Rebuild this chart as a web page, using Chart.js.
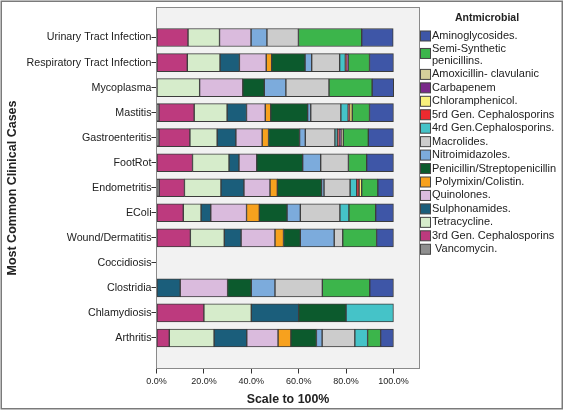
<!DOCTYPE html>
<html>
<head>
<meta charset="utf-8">
<script src="https://cdn.jsdelivr.net/npm/chart.js@4.4.1/dist/chart.umd.min.js"></script>
<style>
  html, body { margin: 0; padding: 0; background: #fff; }
  #wrap { width: 564px; height: 411px; position: relative; }
</style>
</head>
<body>
<div id="wrap"><canvas id="chart"></canvas></div>
<script>
// categories, top to bottom
const cases = ['Urinary Tract Infection', 'Respiratory Tract Infection', 'Mycoplasma', 'Mastitis',
    'Gastroenteritis', 'FootRot', 'Endometritis', 'EColi', 'Wound/Dermatitis', 'Coccidiosis',
    'Clostridia', 'Chlamydiosis', 'Arthritis'];

// percent of each case, stacked left to right in this order
const vancomycin     = [0, 0, 0, 1.0, 1.0, 0, 1.1, 0, 0, 0, 0, 0, 0];
const thirdGenCeph   = [13.3, 13.0, 0, 14.9, 13.1, 15.2, 10.7, 11.3, 14.3, 0, 0, 20, 5.4];
const tetracycline   = [13.3, 13.8, 18.2, 13.9, 11.5, 15.4, 15.4, 7.5, 14.3, 0, 0, 20, 18.9];
const sulphonamides  = [0, 8.2, 0, 8.2, 7.9, 4.2, 9.7, 4.1, 7.1, 0, 10, 20, 13.8];
const quinolones     = [13.3, 11.3, 18.2, 7.9, 11.1, 7.5, 11.0, 15.1, 14.3, 0, 20, 0, 13.2];
const polymixin      = [0, 2.3, 0, 2.3, 2.7, 0, 3.1, 5.4, 3.6, 0, 0, 0, 5.4];
const penicillin     = [0, 14.1, 9.1, 15.6, 13.1, 19.4, 18.7, 11.7, 7.1, 0, 10, 20, 10.8];
const nitroimidazole = [6.7, 2.8, 9.1, 1.3, 2.4, 7.6, 1.0, 5.6, 14.3, 0, 10, 0, 2.4];
const macrolides     = [13.3, 11.8, 18.2, 12.7, 12.5, 11.7, 11.0, 16.7, 3.6, 0, 20, 0, 13.8];
const fourthGenCeph  = [0, 2.4, 0, 3.1, 1.0, 0, 2.8, 3.8, 0, 0, 0, 20, 5.4];
const fifthGenCeph   = [0, 0.6, 0, 0.6, 0.8, 0, 1.0, 0, 0, 0, 0, 0, 0];
const chloramphenicol = [0, 0, 0, 1.1, 0, 0, 1.1, 0, 0, 0, 0, 0, 0];
const carbapenem     = [0, 0.7, 0, 0, 0.8, 0, 0, 0, 0, 0, 0, 0, 0];
const amoxClav       = [0, 0, 0, 0, 0.9, 0, 0, 0, 0, 0, 0, 0, 0];
const semiSynthetic  = [26.7, 8.9, 18.2, 7.3, 10.6, 7.7, 6.8, 11.3, 14.3, 0, 20, 0, 5.5];
const aminoglycosides = [13.3, 10.1, 9.1, 10.1, 10.6, 11.3, 6.6, 7.5, 7.1, 0, 10, 0, 5.4];

const xTicks = [0, 20, 40, 60, 80, 100];

const series = [
    { name: ' Vancomycin.', data: vancomycin, color: '#8f8f8f' },
    { name: '3rd Gen. Cephalosporins', data: thirdGenCeph, color: '#bd3a7e' },
    { name: 'Tetracycline.', data: tetracycline, color: '#d6eccb' },
    { name: 'Sulphonamides.', data: sulphonamides, color: '#1b5e7b' },
    { name: 'Quinolones.', data: quinolones, color: '#dabbdd' },
    { name: ' Polymixin/Colistin.', data: polymixin, color: '#f7a11e' },
    { name: 'Penicillin/Streptopenicillin', data: penicillin, color: '#0c5a2d' },
    { name: 'Nitroimidazoles.', data: nitroimidazole, color: '#7cabdc' },
    { name: 'Macrolides.', data: macrolides, color: '#cccccc' },
    { name: '4rd Gen.Cephalosporins.', data: fourthGenCeph, color: '#45c3c8' },
    { name: '5rd Gen. Cephalosporins', data: fifthGenCeph, color: '#ec2a2f' },
    { name: 'Chloramphenicol.', data: chloramphenicol, color: '#f8f17c' },
    { name: 'Carbapenem', data: carbapenem, color: '#7a2a8a' },
    { name: 'Amoxicillin- clavulanic', data: amoxClav, color: '#d4cf9b' },
    { name: 'Semi-Synthetic\npenicillins.', data: semiSynthetic, color: '#3cb54b' },
    { name: 'Aminoglycosides.', data: aminoglycosides, color: '#3e56a7' }
];

const FONT = "'Liberation Sans', Arial, sans-serif";
const TEXT = '#222';

// gray plot box behind the bars
const plotBox = {
    id: 'plotBox',
    beforeDatasetsDraw(chart) {
        const { ctx, chartArea: a } = chart;
        ctx.save();
        ctx.fillStyle = '#f2f2f2';
        ctx.fillRect(a.left, a.top, a.right - a.left, a.bottom - a.top);
        ctx.strokeStyle = '#8a8a8a';
        ctx.lineWidth = 1;
        ctx.strokeRect(a.left, a.top, a.right - a.left, a.bottom - a.top);
        ctx.restore();
    }
};

// SPSS style legend on the right, last series first
const sideLegend = {
    id: 'sideLegend',
    afterDraw(chart) {
        const ctx = chart.ctx;
        ctx.save();
        ctx.fillStyle = TEXT;
        ctx.textBaseline = 'middle';
        ctx.textAlign = 'center';
        ctx.font = 'bold 10.5px ' + FONT;
        ctx.fillText('Antmicrobial', 487, 18.5);

        ctx.textAlign = 'left';
        ctx.font = '11px ' + FONT;
        let y = 36;
        chart.data.datasets.slice().reverse().forEach(ds => {
            const lines = ds.label.split('\n');
            const sy = y + (lines.length - 1) * 4;
            ctx.fillStyle = ds.backgroundColor;
            ctx.fillRect(420.5, sy - 5, 10, 10);
            ctx.strokeStyle = '#444';
            ctx.lineWidth = 1;
            ctx.strokeRect(420.5, sy - 5, 10, 10);
            ctx.fillStyle = TEXT;
            lines.forEach((t, i) => ctx.fillText(t, 432, y + i * 11.5));
            y += 13.45 + (lines.length - 1) * 11.5;
        });

        // outer frame of the figure
        ctx.strokeStyle = '#7a7a7a';
        ctx.lineWidth = 1.5;
        ctx.strokeRect(1.25, 1.25, 561, 407.5);
        ctx.restore();
    }
};

new Chart(document.getElementById('chart'), {
    type: 'bar',
    data: {
        datasets: series.map(s => ({
            label: s.name,
            data: s.data.map((v, i) => ({ y: i, x: v || null })),
            backgroundColor: s.color,
            borderColor: '#3c3c3c',
            borderWidth: 1,
            borderSkipped: false,
            barThickness: 18
        }))
    },
    options: {
        indexAxis: 'y',
        responsive: true,
        maintainAspectRatio: false,
        animation: false,
        layout: { padding: { top: 7.5, right: 144.5, bottom: 0, left: 0 } },
        plugins: {
            legend: { display: false },
            tooltip: { enabled: false }
        },
        scales: {
            x: {
                type: 'linear',
                stacked: true,
                min: 0,
                max: 111,
                afterBuildTicks: scale => { scale.ticks = xTicks.map(v => ({ value: v })); },
                afterFit: scale => { scale.height = 42.5; },
                grid: { drawOnChartArea: false, drawTicks: true, tickLength: 5, tickColor: '#333' },
                border: { display: false },
                ticks: {
                    padding: 3,
                    color: TEXT,
                    font: { family: FONT, size: 9 },
                    callback: v => v.toFixed(1) + '%'
                },
                title: {
                    display: true,
                    text: 'Scale to 100%',
                    color: TEXT,
                    font: { family: FONT, size: 12.4, weight: 'bold' },
                    padding: { top: 0, bottom: 3.5 }
                }
            },
            y: {
                type: 'linear',
                stacked: true,
                reverse: true,
                offset: false,
                min: -1.2,
                max: 13.22,
                afterBuildTicks: scale => { scale.ticks = cases.map((c, i) => ({ value: i })); },
                afterFit: scale => { scale.width = 156.5; },
                grid: { offset: false, drawOnChartArea: false, drawTicks: true, tickLength: 5, tickColor: '#333' },
                border: { display: false },
                ticks: {
                    padding: 0,
                    autoSkip: false,
                    color: TEXT,
                    font: { family: FONT, size: 10.7 },
                    callback: v => cases[v]
                },
                title: {
                    display: true,
                    text: 'Most Common Clinical Cases',
                    color: TEXT,
                    font: { family: FONT, size: 12.5, weight: 'bold' },
                    padding: { top: 5, bottom: 0 }
                }
            }
        }
    },
    plugins: [plotBox, sideLegend]
});
</script>
</body>
</html>
